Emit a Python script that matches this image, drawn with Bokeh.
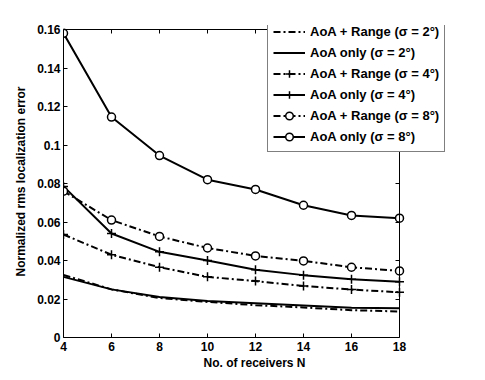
from bokeh.plotting import figure
from bokeh.models import LinearAxis, FixedTicker, CustomJSTickFormatter, Range1d, Legend, LegendItem
from bokeh.embed import file_html
from bokeh.resources import INLINE

N = [4, 6, 8, 10, 12, 14, 16, 18]
range_s2 = [0.0325, 0.025, 0.0205, 0.0185, 0.0168, 0.0156, 0.0142, 0.0135]
only_s2 = [0.0315, 0.025, 0.021, 0.019, 0.0178, 0.0166, 0.0154, 0.0152]
range_s4 = [0.0535, 0.043, 0.0365, 0.0315, 0.0293, 0.0268, 0.0249, 0.0235]
only_s4 = [0.0785, 0.054, 0.0445, 0.040, 0.0352, 0.0324, 0.0303, 0.0289]
range_s8 = [0.076, 0.061, 0.0525, 0.0465, 0.0424, 0.0398, 0.0365, 0.0346]
only_s8 = [0.158, 0.1145, 0.0945, 0.082, 0.0769, 0.0687, 0.0634, 0.062]

labels = ["AoA + Range (σ = 2°)", "AoA only (σ = 2°)",
          "AoA + Range (σ = 4°)", "AoA only (σ = 4°)",
          "AoA + Range (σ = 8°)", "AoA only (σ = 8°)"]
x_ticks = [4, 6, 8, 10, 12, 14, 16, 18]
y_ticks = [0, 0.02, 0.04, 0.06, 0.08, 0.1, 0.12, 0.14, 0.16]
x_lim = (4, 18)
y_lim = (0, 0.16)

FONT = "Liberation Sans"

# frame is widened to the right and top so the legend can overhang the axes box
px_per_x = 24.0          # 336 px for 14 units
px_per_y = 308.0 / 0.16
x_end = x_lim[1] + 46 / px_per_x
y_end = y_lim[1] + 4 / px_per_y

p = figure(width=477, height=372, output_backend="svg", toolbar_location=None,
           x_range=Range1d(x_lim[0], x_end), y_range=Range1d(y_lim[0], y_end),
           min_border_left=63, min_border_right=32, min_border_top=25, min_border_bottom=35)
p.xgrid.visible = False
p.ygrid.visible = False
p.outline_line_color = None
p.background_fill_color = "white"
p.border_fill_color = "white"

fmt = CustomJSTickFormatter(code="var s = tick.toFixed(2); s = s.replace(/0+$/, ''); s = s.replace(/\\.$/, ''); return s;")
empty = CustomJSTickFormatter(code="return '';")

for ax in p.xaxis:
    ax.ticker = FixedTicker(ticks=x_ticks)
    ax.bounds = x_lim
for ax in p.yaxis:
    ax.ticker = FixedTicker(ticks=y_ticks)
    ax.formatter = fmt
    ax.bounds = y_lim

for ax in list(p.xaxis) + list(p.yaxis):
    ax.major_tick_in = 4
    ax.major_tick_out = 0
    ax.minor_tick_in = 0
    ax.minor_tick_out = 0
    ax.axis_line_color = "black"
    ax.major_tick_line_color = "black"
    ax.major_label_text_font = FONT
    ax.major_label_text_font_style = "bold"
    ax.major_label_text_font_size = "12px"
    ax.major_label_text_color = "black"
    ax.axis_label_text_font = FONT
    ax.axis_label_text_font_style = "bold"
    ax.axis_label_text_font_size = "12px"
    ax.axis_label_text_color = "black"
p.xaxis.axis_label = "No. of receivers N"
p.yaxis.axis_label = "Normalized rms localization error"
p.xaxis.major_label_standoff = 4
p.yaxis.major_label_standoff = 3
p.xaxis.axis_label_standoff = 2
p.yaxis.axis_label_standoff = 6

top = LinearAxis(ticker=FixedTicker(ticks=x_ticks), formatter=empty, bounds=x_lim,
                 fixed_location=y_lim[1],
                 major_tick_in=4, major_tick_out=0, minor_tick_in=0, minor_tick_out=0,
                 major_label_standoff=0, axis_line_color="black")
right = LinearAxis(ticker=FixedTicker(ticks=y_ticks), formatter=empty, bounds=y_lim,
                   fixed_location=x_lim[1],
                   major_tick_in=4, major_tick_out=0, minor_tick_in=0, minor_tick_out=0,
                   major_label_standoff=0, axis_line_color="black")
p.add_layout(top, "above")
p.add_layout(right, "right")

DD = "7 3 2 3"
series = [
    (range_s2, DD, None, 0),
    (only_s2, "solid", None, 0),
    (range_s4, DD, "cross", 9),
    (only_s4, "solid", "cross", 9),
    (range_s8, DD, "circle", 8),
    (only_s8, "solid", "circle", 8),
]
items = []
for (vals, dash, marker, msize), lab in zip(series, labels):
    rs = [p.line(N, vals, line_color="black", line_width=2, line_dash=dash)]
    if marker is not None:
        rs.append(p.scatter(N, vals, marker=marker, size=msize, line_color="black",
                            line_width=1.5, fill_color="white"))
    items.append(LegendItem(label=lab, renderers=rs))

leg = Legend(items=items, location=(204, 185),
             label_text_font=FONT, label_text_font_style="bold", label_text_font_size="13px",
             label_text_color="black", border_line_color="black", border_line_width=1,
             background_fill_color="white", background_fill_alpha=1,
             glyph_width=32, glyph_height=19, label_height=19, spacing=2,
             padding=5, margin=0, label_standoff=5)
p.add_layout(leg, "center")

open("out.html", "w").write(file_html(p, INLINE))
